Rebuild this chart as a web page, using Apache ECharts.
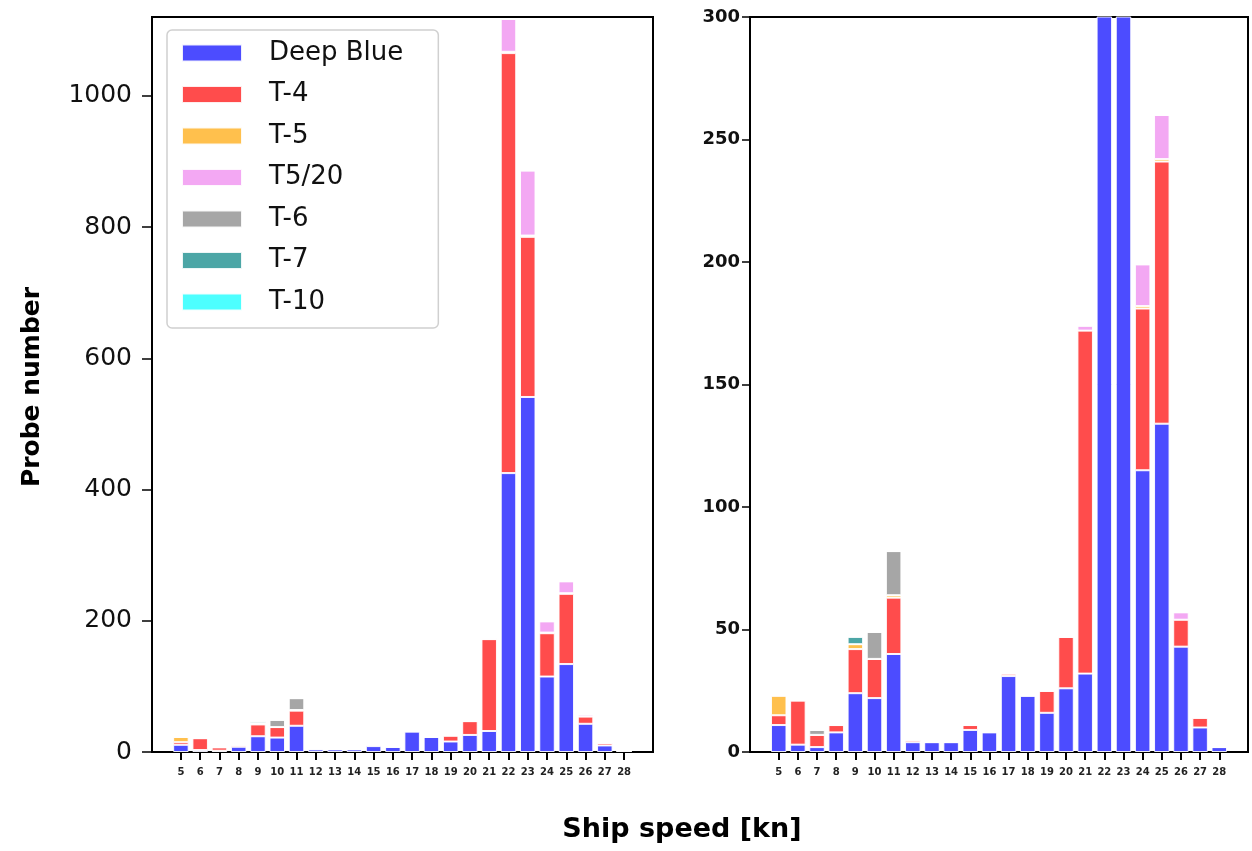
<!DOCTYPE html>
<html><head><meta charset="utf-8">
<script src="https://cdn.jsdelivr.net/npm/echarts@6/dist/echarts.min.js"></script>
<style>html,body{margin:0;padding:0;background:#fff}#c{width:1252px;height:851px}</style>
</head><body><div id="c"></div>
<script>
const speeds = [5,6,7,8,9,10,11,12,13,14,15,16,17,18,19,20,21,22,23,24,25,26,27,28];
const deepBlue = [11,3,2,8,24,22,40,4,4,4,9,8,31,23,16,26,32,425,541,115,134,43,10,2];
const t4      = [4,18,5,3,18,16,23,1,0,0,2,0,1,0,9,21,140,640,244,66,107,11,4,0];
const t5      = [8,0,0,0,2,0,1,0,0,0,0,0,0,0,0,0,0,2,2,1,1,0,0,0];
const t520    = [0,0,0,0,0,0,0,0,0,0,0,0,0,0,0,0,2,50,99,17,18,3,0,0];
const t6      = [0,0,2,0,0,11,18,0,0,0,0,0,0,0,0,0,0,0,0,0,0,0,0,0];
const t7      = [0,0,0,0,3,0,0,0,0,0,0,0,0,0,0,0,0,0,0,0,0,0,0,0];
const t10     = [0,0,0,0,0,0,0,0,0,0,0,0,0,0,0,0,0,0,0,0,0,0,0,0];
const leftTicks = [0,200,400,600,800,1000];
const rightTicks = [0,50,100,150,200,250,300];

const seriesDefs = [
  ['Deep Blue', deepBlue, '#4c4cff'],
  ['T-4', t4, '#ff4c4c'],
  ['T-5', t5, '#ffc04d'],
  ['T5/20', t520, '#f3a8f3'],
  ['T-6', t6, '#a6a6a6'],
  ['T-7', t7, '#4ca6a6'],
  ['T-10', t10, '#4dffff']
];

// one empty slot on each side reproduces the plot's side margins
const cats = [''].concat(speeds.map(String), ['']);
const lastIdx = cats.length - 1;
const F = 'DejaVu Sans';
function xAxisFor(idx){
  return {
    type:'category', gridIndex:idx, data:cats, boundaryGap:true,
    splitLine:{show:false},
    axisLine:{show:true, onZero:false, lineStyle:{color:'#000', width:2}},
    axisTick:{show:true, alignWithLabel:true, interval:(i)=> i>0 && i<lastIdx, length:8, lineStyle:{color:'#000', width:2}},
    axisLabel:{show:true, interval:0, margin:15, fontFamily:F, fontWeight:'bold', fontSize:10, color:'#222'}
  };
}
function yAxisFor(idx, max, ticks, big){
  return {
    type:'value', gridIndex:idx, min:0, max:max,
    splitLine:{show:false},
    axisLine:{show:true, lineStyle:{color:'#000', width:2}},
    axisTick:{show:true, customValues:ticks, length:big?8:10, lineStyle:{color:'#000', width:1.5}},
    axisLabel:{show:true, customValues:ticks, margin:big?10:20, fontFamily:F,
      formatter:(v)=>String(v),
      fontWeight: big?'bold':'normal', fontSize: big?18:25, color:'#111'}
  };
}
const series = [];
[0,1].forEach(g=>{
  seriesDefs.forEach(([name, vals, color])=>{
    series.push({
      type:'bar', name:name, xAxisIndex:g, yAxisIndex:g, stack:'s'+g,
      barWidth:15.5, clip:true,
      data: [null].concat(vals, [null]),
      itemStyle:{color:color, borderColor:'rgba(255,255,255,0.9)', borderWidth:1},
      emphasis:{disabled:true}
    });
  });
});

const chart = echarts.init(document.getElementById('c'), null, {renderer:'canvas'});
chart.setOption({
  animation:false,
  backgroundColor:'#fff',
  grid:[
    {left:152, right:599, top:17, bottom:99, show:true, borderColor:'#000', borderWidth:2, backgroundColor:'transparent'},
    {left:750, right:4, top:17, bottom:99, show:true, borderColor:'#000', borderWidth:2, backgroundColor:'transparent'}
  ],
  xAxis:[xAxisFor(0), xAxisFor(1)],
  yAxis:[yAxisFor(0,1120,leftTicks,false), yAxisFor(1,300,rightTicks,true)],
  legend:{
    left:167, top:30, orient:'vertical',
    data: seriesDefs.map(d=>d[0]),
    icon:'rect', itemWidth:60, itemHeight:17, itemGap:15.5,
    padding:[10,35,13,14],
    backgroundColor:'#fff', borderColor:'#d0d0d0', borderWidth:1.5, borderRadius:5,
    textStyle:{fontFamily:F, fontSize:26, color:'#111', padding:[0,0,0,22]}
  },
  graphic:[
    {type:'text', x:32, y:387, rotation:Math.PI/2,
      style:{text:'Probe number', font:'bold 25px "DejaVu Sans"', fill:'#000', align:'center', verticalAlign:'middle'}},
    {type:'text', x:682, y:830,
      style:{text:'Ship speed [kn]', font:'bold 27px "DejaVu Sans"', fill:'#000', align:'center', verticalAlign:'middle'}}
  ],
  series:series
});
</script></body></html>
